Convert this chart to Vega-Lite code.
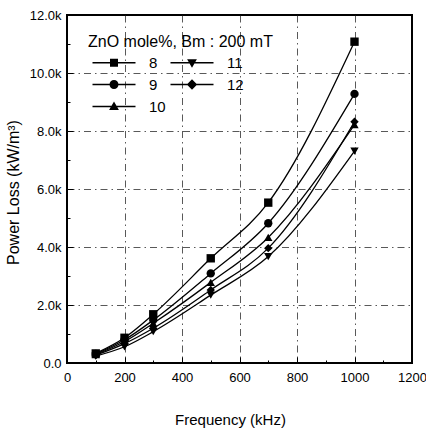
{
  "$schema": "https://vega.github.io/schema/vega-lite/v6.json",
  "autosize": "none",
  "padding": {"left": 67, "top": 15, "right": 14, "bottom": 65},
  "width": 345,
  "height": 348,
  "background": "white",
  "config": {
    "font": "Liberation Sans",
    "view": {"stroke": "#000", "strokeWidth": 2}
  },
  "data": {
    "values": [
      {"f": 100, "p": 330, "zno": "8"}, {"f": 200, "p": 870, "zno": "8"}, {"f": 300, "p": 1680, "zno": "8"}, {"f": 500, "p": 3610, "zno": "8"}, {"f": 700, "p": 5530, "zno": "8"}, {"f": 1000, "p": 11080, "zno": "8"},
      {"f": 100, "p": 310, "zno": "9"}, {"f": 200, "p": 800, "zno": "9"}, {"f": 300, "p": 1480, "zno": "9"}, {"f": 500, "p": 3090, "zno": "9"}, {"f": 700, "p": 4820, "zno": "9"}, {"f": 1000, "p": 9280, "zno": "9"},
      {"f": 100, "p": 290, "zno": "10"}, {"f": 200, "p": 740, "zno": "10"}, {"f": 300, "p": 1370, "zno": "10"}, {"f": 500, "p": 2780, "zno": "10"}, {"f": 700, "p": 4330, "zno": "10"}, {"f": 1000, "p": 8220, "zno": "10"},
      {"f": 100, "p": 240, "zno": "11"}, {"f": 200, "p": 560, "zno": "11"}, {"f": 300, "p": 1080, "zno": "11"}, {"f": 500, "p": 2340, "zno": "11"}, {"f": 700, "p": 3670, "zno": "11"}, {"f": 1000, "p": 7310, "zno": "11"},
      {"f": 100, "p": 270, "zno": "12"}, {"f": 200, "p": 670, "zno": "12"}, {"f": 300, "p": 1200, "zno": "12"}, {"f": 500, "p": 2520, "zno": "12"}, {"f": 700, "p": 3960, "zno": "12"}, {"f": 1000, "p": 8320, "zno": "12"}
    ]
  },
  "encoding": {
    "x": {
      "field": "f", "type": "quantitative",
      "scale": {"domain": [0, 1200], "nice": false, "zero": false},
      "axis": {
        "title": "Frequency (kHz)",
        "values": [0, 100, 200, 300, 400, 500, 600, 700, 800, 900, 1000, 1100, 1200],
        "labelExpr": "datum.value % 200 === 0 ? datum.label : ''",
        "format": "d",
        "labelFlush": false,
        "labelOverlap": false,
        "labelFontSize": 13,
        "labelColor": "#000",
        "labelPadding": 14,
        "domain": false,
        "tickColor": "#000",
        "tickWidth": 1,
        "tickSize": {"condition": {"test": "datum.value % 200 === 0", "value": -6}, "value": -3},
        "grid": true,
        "gridColor": "#222",
        "gridWidth": 1,
        "gridDash": [7, 4, 1.5, 4],
        "gridOpacity": {"condition": {"test": "datum.value % 200 === 0 && datum.value > 0 && datum.value < 1200", "value": 0.75}, "value": 0},
        "titleFontSize": 15,
        "titleFontWeight": "normal",
        "titleColor": "#000",
        "titleX": 163,
        "titleY": 61,
        "titleBaseline": "alphabetic"
      }
    },
    "y": {
      "field": "p", "type": "quantitative",
      "scale": {"domain": [0, 12000], "nice": false, "zero": false},
      "axis": {
        "title": "Power Loss (kW/m³)",
        "values": [0, 1000, 2000, 3000, 4000, 5000, 6000, 7000, 8000, 9000, 10000, 11000, 12000],
        "labelExpr": "datum.value === 0 ? '0.0' : (datum.value % 2000 === 0 ? format(datum.value / 1000, '.1f') + 'k' : '')",
        "labelOverlap": false,
        "labelFontSize": 13,
        "labelColor": "#000",
        "labelPadding": 12,
        "domain": false,
        "tickColor": "#000",
        "tickWidth": 1,
        "tickSize": {"condition": {"test": "datum.value % 2000 === 0", "value": -6}, "value": -3},
        "grid": true,
        "gridColor": "#222",
        "gridWidth": 1,
        "gridDash": [7, 4, 1.5, 4],
        "gridOpacity": {"condition": {"test": "datum.value % 2000 === 0 && datum.value > 0 && datum.value < 12000", "value": 0.75}, "value": 0},
        "titleFontSize": 16,
        "titleFontWeight": "normal",
        "titleColor": "#000",
        "titleAngle": -90,
        "titleX": -54,
        "titleY": 177,
        "titleAlign": "center",
        "titleBaseline": "middle"
      }
    }
  },
  "layer": [
    {
      "mark": {"type": "line", "interpolate": "monotone", "color": "#000", "strokeWidth": 1.3},
      "encoding": {"detail": {"field": "zno", "type": "nominal"}}
    },
    {
      "mark": {"type": "point", "filled": true, "color": "#000", "opacity": 1, "size": 70},
      "encoding": {
        "shape": {
          "field": "zno", "type": "nominal",
          "scale": {"domain": ["8", "9", "10", "11", "12"], "range": ["square", "circle", "triangle-up", "triangle-down", "diamond"]},
          "legend": null
        }
      }
    },
    {
      "transform": [{"filter": "datum.f < 0"}],
      "mark": {"type": "point", "filled": true, "color": "#000", "opacity": 1, "size": 64},
      "encoding": {
        "shape": {
          "field": "zno", "type": "nominal",
          "scale": {
            "domain": ["8", "9", "10", "11", "12"],
            "range": [
              "M-0.75,-0.16H10V0.16H-0.75ZM3.625,-1H5.625V1H3.625Z",
              "M-0.75,-0.16H10V0.16H-0.75ZM5.75,0A1.125,1.125 0 1 1 3.5,0A1.125,1.125 0 1 1 5.75,0Z",
              "M-0.75,-0.16H10V0.16H-0.75ZM4.625,-1.25L5.85,0.9L3.4,0.9Z",
              "M-0.75,-0.16H10V0.16H-0.75ZM4.625,1.25L3.4,-0.9L5.85,-0.9Z",
              "M-0.75,-0.16H10V0.16H-0.75ZM4.625,-1.3L5.925,0L4.625,1.3L3.325,0Z"
            ]
          },
          "legend": {
            "title": "ZnO mole%, Bm : 200 mT",
            "orient": "none",
            "legendX": 21,
            "legendY": 19,
            "columns": 2,
            "columnPadding": 0,
            "rowPadding": 5,
            "symbolSize": 64,
            "labelOffset": 46,
            "labelFontSize": 15,
            "labelColor": "#000",
            "labelFont": "Liberation Sans",
            "titleFont": "Liberation Sans",
            "titleFontSize": 16,
            "titleFontWeight": "normal",
            "titleColor": "#000",
            "titlePadding": 5,
            "titleLimit": 300,
            "encode": {
              "symbols": {
                "fill": {"value": "#000"},
                "opacity": {"value": 1}
              }
            }
          }
        }
      }
    }
  ],
  "resolve": {"scale": {"shape": "independent"}}
}
